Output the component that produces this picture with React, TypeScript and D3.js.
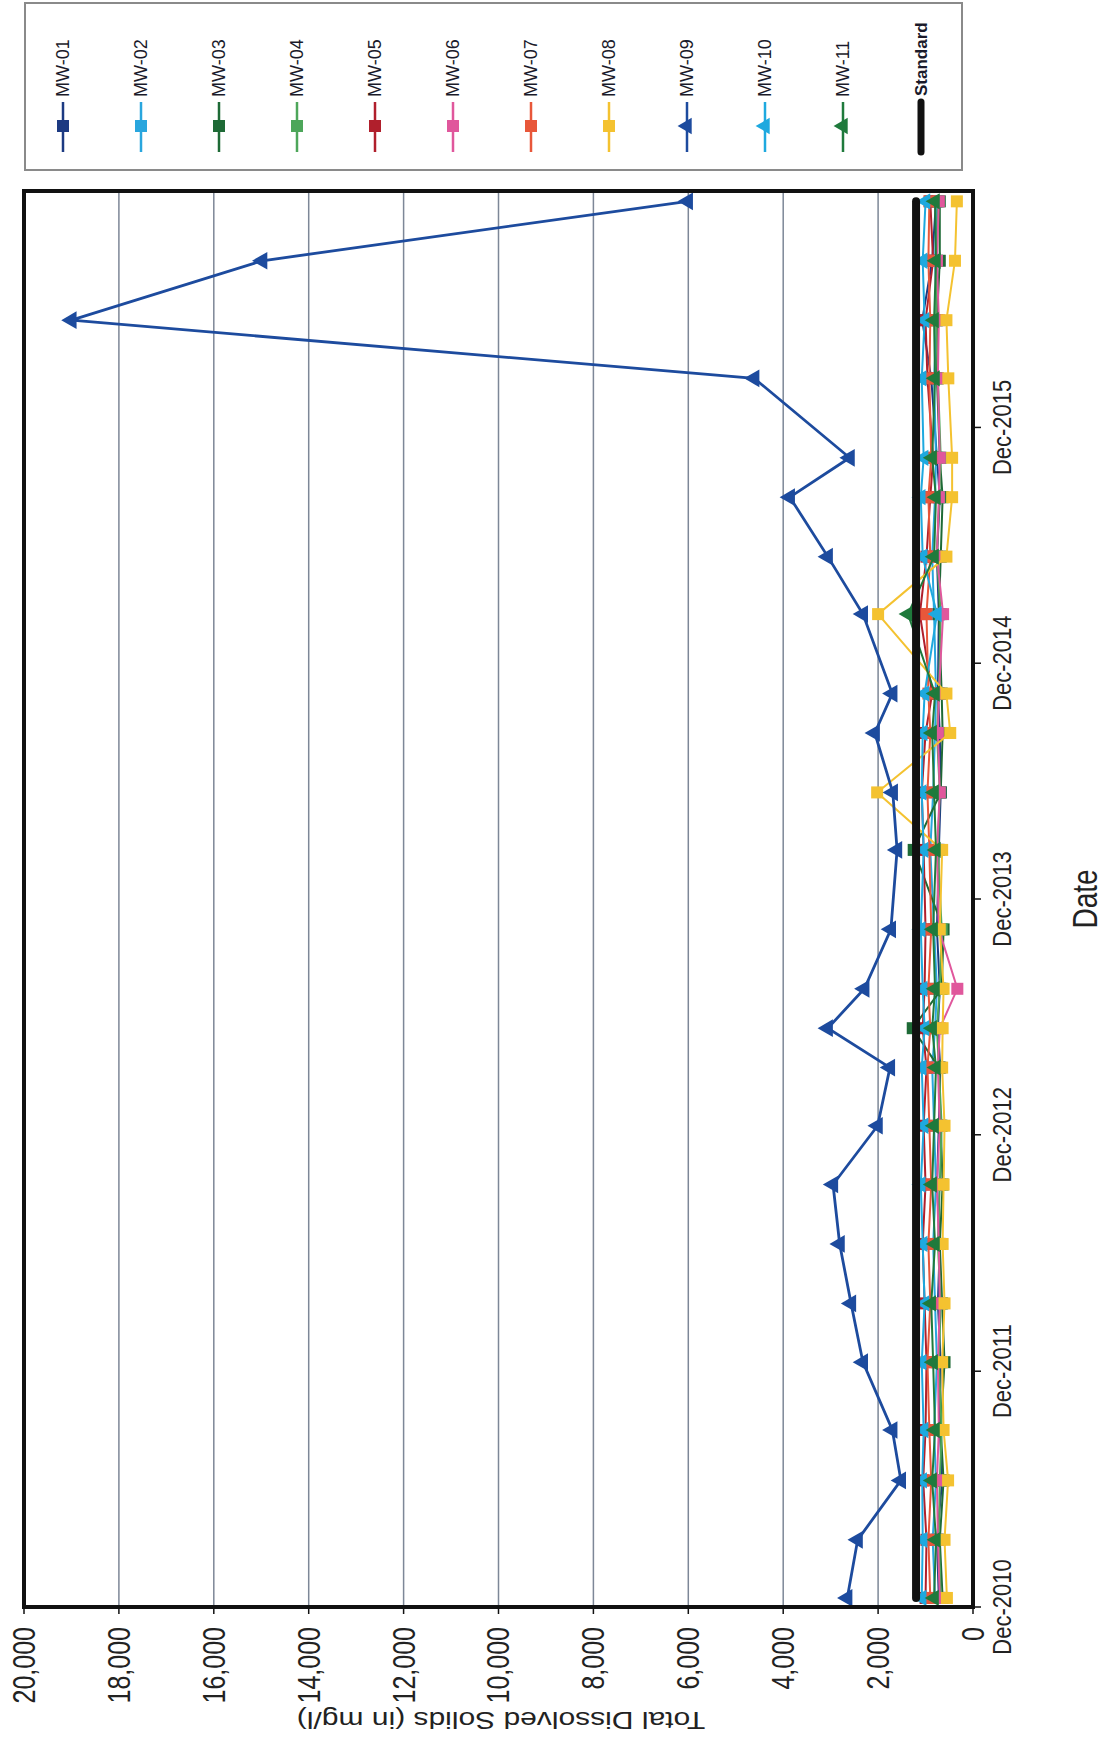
import React from "react";
import * as d3 from "d3";

const sampleDates = [
  "2010-12-15", "2011-03-15", "2011-06-15", "2011-09-01", "2011-12-15",
  "2012-03-15", "2012-06-15", "2012-09-15", "2012-12-15", "2013-03-15",
  "2013-05-15", "2013-07-15", "2013-10-15", "2014-02-15", "2014-05-15",
  "2014-08-15", "2014-10-15", "2015-02-15", "2015-05-15", "2015-08-15",
  "2015-10-15", "2016-02-15", "2016-05-15", "2016-08-15", "2016-11-15",
];

const mw01 = [720, 760, 650, 700, 680, 740, 700, 760, 720, 690, 740, 700, 760, 720, 680, 700, 740, 720, 760, 700, 760, 880, 1070, 860, 780];
const mw02 = [800, 850, 780, 820, 760, 800, 840, 780, 820, 860, 800, 760, 820, 900, 840, 800, 780, 820, 860, 800, 780, 820, 760, 800, 760];
const mw03 = [640, 700, 620, 680, 600, 650, 700, 640, 680, 720, 1270, 660, 620, 1250, 680, 640, 660, 720, 680, 640, 700, 760, 760, 700, 700];
const mw04 = [680, 720, 700, 660, 720, 680, 740, 700, 660, 720, 760, 700, 660, 740, 700, 760, 720, 680, 760, 710, 680, 740, 780, 760, 740];
const mw05 = [1000, 980, 1050, 1000, 980, 1020, 1060, 1000, 1040, 980, 1060, 1020, 1000, 1040, 1080, 1000, 860, 1120, 980, 900, 840, 960, 1000, 840, 900];
const mw06 = [700, 740, 760, 720, 740, 700, 720, 760, 700, 740, 700, 330, 720, 760, 700, 740, 720, 630, 760, 720, 700, 740, 720, 760, 720];
const mw07 = [900, 940, 880, 920, 960, 900, 940, 880, 920, 960, 900, 940, 880, 920, 960, 900, 940, 980, 900, 940, 880, 920, 900, 940, 920];
const mw08 = [550, 600, 525, 620, 650, 600, 640, 620, 600, 650, 640, 620, 700, 650, 2020, 480, 560, 2000, 560, 440, 440, 520, 560, 380, 340];
const mw09 = [2650, 2430, 1520, 1700, 2320, 2570, 2810, 2950, 2010, 1750, 3060, 2290, 1730, 1600, 1690, 2070, 1700, 2320, 3060, 3860, 2600, 4610, 19000, 14980, 6010];
const mw10 = [1080, 1060, 1070, 1040, 1080, 1020, 1060, 1100, 1040, 1080, 1020, 1060, 1100, 1040, 1080, 1060, 1020, 760, 1060, 1100, 1040, 1080, 1020, 1060, 1000];
const mw11 = [820, 780, 860, 800, 840, 880, 800, 860, 820, 780, 860, 800, 840, 780, 820, 860, 800, 1370, 820, 780, 860, 800, 820, 780, 800];
const standardValue = 1200;

const seriesNames = ["MW-01", "MW-02", "MW-03", "MW-04", "MW-05", "MW-06", "MW-07", "MW-08", "MW-09", "MW-10", "MW-11"];
const seriesValues = [mw01, mw02, mw03, mw04, mw05, mw06, mw07, mw08, mw09, mw10, mw11];
const seriesColors = ["#1c3a82", "#29a6de", "#1e6a36", "#4da65a", "#b01f2c", "#e0579c", "#e8573a", "#f4c230", "#1d4b9e", "#1ea9df", "#1f7a3c"];
const seriesShapes = ["square", "square", "square", "square", "square", "square", "square", "square", "triangle", "triangle", "triangle"];

const valueTicks = [0, 2000, 4000, 6000, 8000, 10000, 12000, 14000, 16000, 18000, 20000];
const dateTicks = ["2010-12-01", "2011-12-01", "2012-12-01", "2013-12-01", "2014-12-01", "2015-12-01"];
const dateTickLabels = ["Dec-2010", "Dec-2011", "Dec-2012", "Dec-2013", "Dec-2014", "Dec-2015"];

const W = 1111;
const H = 1741;
const PL = 24, PR = 973, PT = 191, PB = 1607;
const FONT = "'Liberation Sans', Arial, sans-serif";

const parse = d3.timeParse("%Y-%m-%d");

function Marker({ shape, x, y, color, size }: { shape: string; x: number; y: number; color: string; size: number }) {
  if (shape === "square") {
    return <rect x={x - size / 2} y={y - size / 2} width={size} height={size} fill={color} />;
  }
  const path = d3.symbol().type(d3.symbolTriangle).size(size * size * 0.8)() as string;
  return <path d={path} transform={`translate(${x},${y}) rotate(-90)`} fill={color} />;
}

export default function App() {
  const x = d3.scaleLinear().domain([0, 20000]).range([PR, PL]);
  const y = d3.scaleTime().domain([parse("2010-12-01")!, parse("2016-12-01")!]).range([PB, PT]);
  const dates = sampleDates.map((s) => parse(s)!);

  const line = d3
    .line<number>()
    .x((v) => x(v))
    .y((_, i) => y(dates[i]));

  const legendX0 = 63;
  const legendStep = 78;

  return (
    <svg width={W} height={H} style={{ position: "absolute", left: 0, top: 0, background: "#fff" }} fontFamily={FONT}>
      <rect x={0} y={0} width={W} height={H} fill="#fff" />
      {/* Legend */}
      <rect x={25} y={3} width={937} height={167} fill="#fff" stroke="#8a8a8a" strokeWidth={2} />
      {seriesNames.map((name, i) => {
        const cx = legendX0 + i * legendStep;
        return (
          <g key={name}>
            <line x1={cx} x2={cx} y1={102} y2={152} stroke={seriesColors[i]} strokeWidth={2.5} />
            <Marker shape={seriesShapes[i]} x={cx} y={126} color={seriesColors[i]} size={12} />
            <text transform={`translate(${cx},97) rotate(-90)`} dy="0.35em" fontSize={18} fill="#1a1a2a" textAnchor="start">
              {name}
            </text>
          </g>
        );
      })}
      {(() => {
        const cx = legendX0 + 11 * legendStep;
        return (
          <g>
            <line x1={cx} x2={cx} y1={102} y2={152} stroke="#111" strokeWidth={7} strokeLinecap="round" />
            <text transform={`translate(${cx},96) rotate(-90)`} dy="0.35em" fontSize={17} fontWeight="bold" fill="#1a1a2a" textAnchor="start">
              Standard
            </text>
          </g>
        );
      })()}

      {/* Gridlines */}
      {valueTicks.map((t) => (
        <line key={"g" + t} x1={x(t)} x2={x(t)} y1={PT} y2={PB} stroke="#7d8797" strokeWidth={1.5} />
      ))}

      {/* Series */}
      {seriesValues.map((vals, i) => (
        <g key={"s" + i}>
          <path d={line(vals) as string} fill="none" stroke={seriesColors[i]} strokeWidth={i === 8 ? 2.8 : 2} />
          {vals.map((v, j) => (
            <Marker key={j} shape={seriesShapes[i]} x={x(v)} y={y(dates[j])} color={seriesColors[i]} size={i === 8 ? 13 : 12} />
          ))}
        </g>
      ))}

      {/* Standard */}
      <line
        x1={x(standardValue)}
        x2={x(standardValue)}
        y1={y(dates[0])}
        y2={y(dates[dates.length - 1])}
        stroke="#111"
        strokeWidth={8}
        strokeLinecap="round"
      />

      {/* Frame */}
      <rect x={PL} y={PT} width={PR - PL} height={PB - PT} fill="none" stroke="#111" strokeWidth={4} />

      {/* Value axis (bottom) */}
      {valueTicks.map((t) => (
        <g key={"vt" + t}>
          <line x1={x(t)} x2={x(t)} y1={PB} y2={PB + 7} stroke="#111" strokeWidth={1.5} />
          <text
            transform={`translate(${x(t)},1627) scale(1.25,1) rotate(-90)`}
            dy="0.35em"
            textAnchor="end"
            fontSize={25}
            fill="#222"
          >
            {d3.format(",")(t)}
          </text>
        </g>
      ))}
      <text transform={`translate(501,1720) scale(1.25,1) rotate(180)`} dy="0.35em" textAnchor="middle" fontSize={24} fill="#222">
        Total Dissolved Solids (in mg/l)
      </text>

      {/* Date axis (right) */}
      {dateTicks.map((d, i) => {
        const ty = y(parse(d)!);
        return (
          <g key={d}>
            <line x1={PR} x2={PR + 8} y1={ty} y2={ty} stroke="#111" strokeWidth={1.5} />
            <text
              transform={`translate(1002,${ty}) scale(1.2,1) rotate(-90)`}
              dy="0.35em"
              textAnchor="middle"
              fontSize={22}
              fill="#222"
            >
              {dateTickLabels[i]}
            </text>
          </g>
        );
      })}
      <text transform={`translate(1085,899) scale(1.25,1) rotate(-90)`} dy="0.35em" textAnchor="middle" fontSize={28} fill="#222">
        Date
      </text>
    </svg>
  );
}
